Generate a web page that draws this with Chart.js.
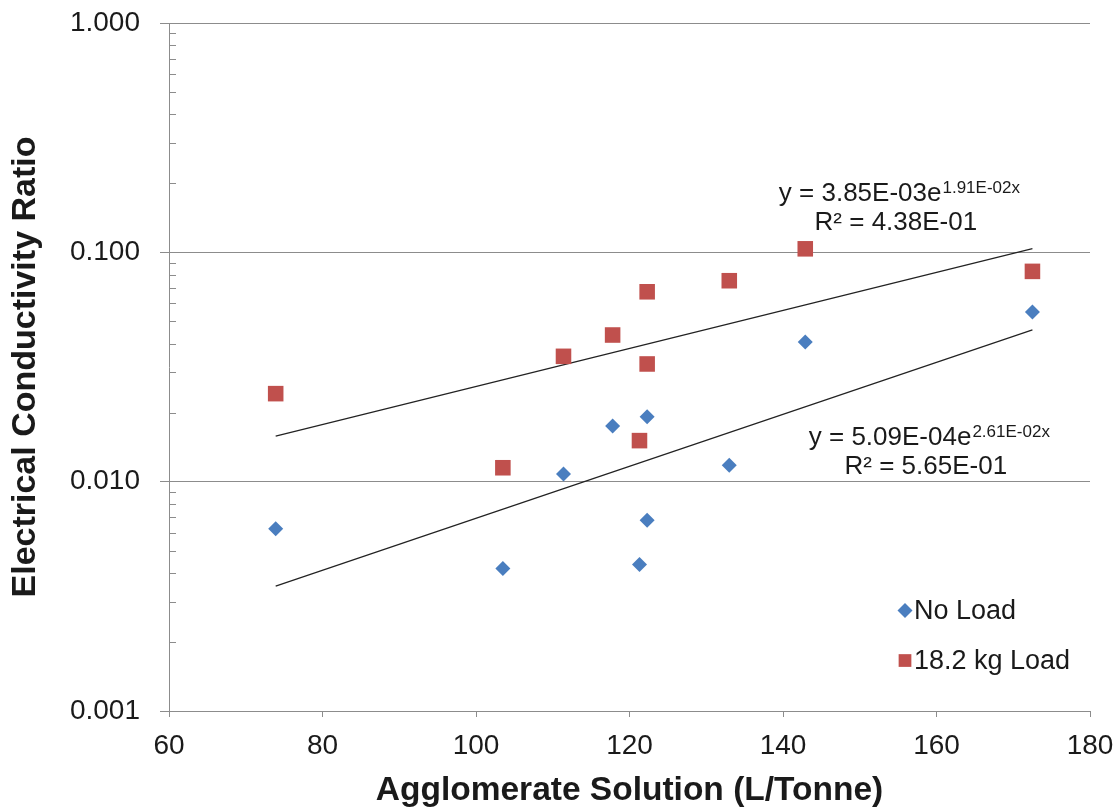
<!DOCTYPE html>
<html>
<head>
<meta charset="utf-8">
<title>Electrical Conductivity Ratio</title>
<script src="https://cdn.jsdelivr.net/npm/chart.js@4/dist/chart.umd.min.js"></script>
<style>
  body { margin: 0; background: #fff; }
  #wrap { width: 1120px; height: 811px; }
</style>
</head>
<body>
<div id="wrap"><canvas id="ecChart"></canvas></div>
<script>
// Agglomerate solution (L/Tonne) for each test
const solution = [73.9, 103.5, 111.4, 117.8, 121.3, 122.3, 122.3, 133.0, 142.9, 172.5];

// Electrical conductivity ratio, no load
const noLoad = [0.00624, 0.00418, 0.0108, 0.0175, 0.00435, 0.0192, 0.00678, 0.0118, 0.0406, 0.0549];

// Electrical conductivity ratio, 18.2 kg load
const withLoad = [0.0242, 0.0115, 0.0352, 0.0436, 0.0151, 0.0673, 0.0326, 0.0752, 0.1036, 0.0826];

// Exponential fits y = a * e^(b x), as printed on the chart
const fitLoad = { a: 3.85e-3, b: 1.91e-2, r2: '4.38E-01' };
const fitNoLoad = { a: 5.09e-4, b: 2.61e-2, r2: '5.65E-01' };

const yTicks = [0.001, 0.01, 0.1, 1];
const xRange = [60, 180];

const BLUE = '#4a7ebf';
const RED = '#c0504d';
const GRID = '#8c8c8c';
const TEXT = '#1a1a1a';
const FONT = '"Liberation Sans", Arial, sans-serif';

const toPoints = ys => solution.map((x, i) => ({ x, y: ys[i] }));
const xMin = Math.min(...solution);
const xMax = Math.max(...solution);
const fitLine = f => [xMin, xMax].map(x => ({ x, y: f.a * Math.exp(f.b * x) }));

const isDecade = v => Math.abs(Math.log10(v) - Math.round(Math.log10(v))) < 1e-6;
const sci = v => v.toExponential(2).toUpperCase().replace('E-', 'E-0');

// small inside ticks at 2..9 of every decade on the y axis
const minorTicks = {
  id: 'minorTicks',
  afterDraw(chart) {
    const { ctx, scales: { y } } = chart;
    ctx.save();
    ctx.strokeStyle = GRID;
    ctx.lineWidth = 1;
    for (let e = -3; e < 0; e++) {
      for (let k = 2; k <= 9; k++) {
        const py = Math.round(y.getPixelForValue(k * Math.pow(10, e))) + 0.5;
        ctx.beginPath();
        ctx.moveTo(y.right, py);
        ctx.lineTo(y.right + 7, py);
        ctx.stroke();
      }
    }
    ctx.restore();
  }
};

// trendline equations and legend box
const fitLabels = {
  id: 'fitLabels',
  afterDraw(chart) {
    const { ctx, scales: { x, y } } = chart;
    ctx.save();
    ctx.fillStyle = TEXT;

    const drawEq = (f, cx, cy) => {
      const main = 'y = ' + sci(f.a) + 'e';
      const sup = sci(f.b) + 'x';
      ctx.font = '26px ' + FONT;
      const w1 = ctx.measureText(main).width;
      ctx.font = '17px ' + FONT;
      const w2 = ctx.measureText(sup).width;
      const left = cx - (w1 + w2) / 2;
      ctx.textAlign = 'left';
      ctx.textBaseline = 'alphabetic';
      ctx.font = '26px ' + FONT;
      ctx.fillText(main, left, cy + 9);
      ctx.font = '17px ' + FONT;
      ctx.fillText(sup, left + w1 + 1, cy + 1);
      ctx.font = '26px ' + FONT;
      ctx.textAlign = 'center';
      ctx.fillText('R\u00b2 = ' + f.r2, cx - 3, cy + 38);
    };
    drawEq(fitLoad, x.getPixelForValue(155.1), y.getPixelForValue(0.1837));
    drawEq(fitNoLoad, x.getPixelForValue(159.0), y.getPixelForValue(0.01587));

    // legend
    const items = [
      { text: 'No Load', style: 'rectRot', color: BLUE, r: 7.5, v: 0.00274 },
      { text: '18.2 kg Load', style: 'rect', color: RED, r: 9, v: 0.00166 }
    ];
    ctx.font = '27px ' + FONT;
    ctx.textAlign = 'left';
    ctx.textBaseline = 'middle';
    items.forEach(it => {
      const py = y.getPixelForValue(it.v);
      ctx.fillStyle = it.color;
      ctx.strokeStyle = it.color;
      Chart.helpers.drawPoint(ctx, { pointStyle: it.style, radius: it.r, borderWidth: 0 }, 905, py);
      ctx.fillStyle = TEXT;
      ctx.fillText(it.text, 914, py + 1);
    });
    ctx.restore();
  }
};

new Chart(document.getElementById('ecChart'), {
  type: 'scatter',
  data: {
    datasets: [
      {
        label: 'No Load',
        data: toPoints(noLoad),
        pointStyle: 'rectRot',
        pointRadius: 7.5,
        backgroundColor: BLUE,
        borderColor: BLUE,
        borderWidth: 0
      },
      {
        label: '18.2 kg Load',
        data: toPoints(withLoad),
        pointStyle: 'rect',
        pointRadius: 11,
        backgroundColor: RED,
        borderColor: RED,
        borderWidth: 0
      },
      {
        label: 'fit load',
        data: fitLine(fitLoad),
        showLine: true,
        pointRadius: 0,
        borderColor: '#222',
        borderWidth: 1.2
      },
      {
        label: 'fit no load',
        data: fitLine(fitNoLoad),
        showLine: true,
        pointRadius: 0,
        borderColor: '#222',
        borderWidth: 1.2
      }
    ]
  },
  options: {
    responsive: true,
    maintainAspectRatio: false,
    animation: false,
    layout: { padding: { top: 23, right: 30, left: 0, bottom: 0 } },
    plugins: {
      legend: { display: false },
      tooltip: { enabled: false }
    },
    scales: {
      x: {
        type: 'linear',
        min: xRange[0],
        max: xRange[1],
        afterFit: s => {
          s.height = 100;
          s.paddingLeft = 0;
          s.paddingRight = 0;
        },
        ticks: {
          stepSize: 20,
          color: TEXT,
          font: { family: FONT, size: 28 },
          padding: 12
        },
        grid: {
          drawOnChartArea: false,
          color: GRID,
          tickLength: 6
        },
        border: { color: GRID },
        title: {
          display: true,
          text: 'Agglomerate Solution (L/Tonne)',
          color: TEXT,
          font: { family: FONT, size: 33.5, weight: 'bold' },
          padding: { top: 0, bottom: 0 }
        }
      },
      y: {
        type: 'logarithmic',
        min: yTicks[0],
        max: yTicks[yTicks.length - 1],
        afterFit: s => {
          s.width = 169;
          s.paddingTop = 0;
          s.paddingBottom = 0;
        },
        afterBuildTicks: s => {
          s.ticks = yTicks.map(v => ({ value: v, major: true }));
        },
        ticks: {
          autoSkip: false,
          color: TEXT,
          font: { family: FONT, size: 28 },
          padding: 20,
          callback: v => isDecade(v) ? Number(v).toFixed(3) : ''
        },
        grid: {
          color: GRID,
          tickLength: 9
        },
        border: { color: GRID },
        title: {
          display: true,
          text: 'Electrical Conductivity Ratio',
          color: TEXT,
          font: { family: FONT, size: 34, weight: 'bold' },
          padding: { top: 5, bottom: 0 }
        }
      }
    }
  },
  plugins: [minorTicks, fitLabels]
});
</script>
</body>
</html>
